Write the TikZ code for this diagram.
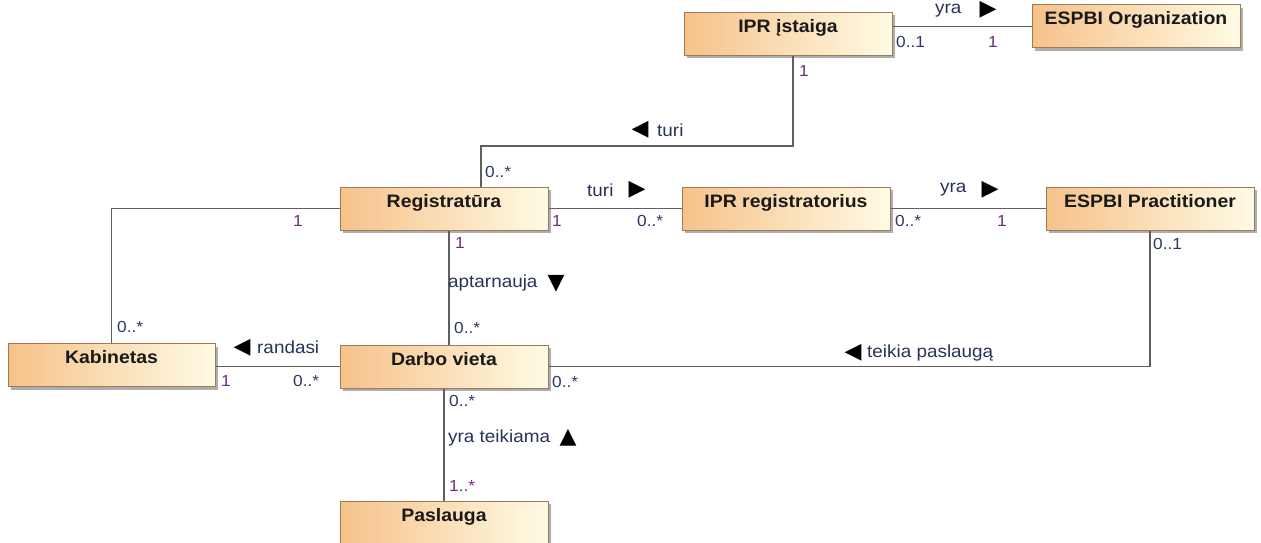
\documentclass[tikz,border=0pt]{standalone}
\usepackage{fontspec}
\setmainfont{Liberation Sans}[FakeStretch=1.08]
\newfontfamily\symfont{DejaVu Sans}
\usetikzlibrary{shadows}
\definecolor{boxL}{RGB}{246,194,138}
\definecolor{boxR}{RGB}{255,251,228}
\definecolor{boxborder}{RGB}{160,120,90}
\definecolor{linec}{RGB}{95,95,95}
\definecolor{multA}{RGB}{110,45,125}
\definecolor{multB}{RGB}{45,55,100}
\definecolor{txt}{RGB}{25,25,25}
\definecolor{reltxt}{RGB}{40,50,90}
\tikzset{
 cls/.style={draw=boxborder, line width=1pt, shading=axis, left color=boxL, right color=boxR,
   minimum width=208pt, minimum height=43pt, inner sep=0pt, text height=20pt, text depth=23pt,
   font=\fontsize{18}{18}\selectfont\bfseries, text=txt,
   drop shadow={shadow xshift=3pt, shadow yshift=-3pt, fill=black!45, opacity=0.7}},
 assoc/.style={draw=linec, line width=1.6pt},
 mone/.style={font=\fontsize{16}{16}\selectfont, text=multA, inner sep=0pt, anchor=west},
 mmany/.style={font=\fontsize{16}{16}\selectfont, text=multB, inner sep=0pt, anchor=west},
 rel/.style={font=\fontsize{17.5}{17.5}\selectfont, text=reltxt, inner sep=0pt, anchor=west},
 tri/.style={font=\symfont\fontsize{22}{22}\selectfont, text=black, inner sep=0pt},
}
\begin{document}
\begin{tikzpicture}[x=1pt,y=-1pt]
\useasboundingbox (0,0) rectangle (1261,543);
% classes
\node[cls] (ipr)   at (788,34)    {IPR įstaiga};
\node[cls] (org)   at (1136,26.5) {ESPBI Organization};
\node[cls] (reg)   at (444,208.5) {Registratūra};
\node[cls] (regr)  at (786,208.5) {IPR registratorius};
\node[cls] (prac)  at (1150,208.5){ESPBI Practitioner};
\node[cls, minimum width=207pt] (kab) at (111.5,365) {Kabinetas};
\node[cls] (darbo) at (444,366.5) {Darbo vieta};
\node[cls, minimum height=42pt, text depth=22pt] (pasl) at (444,522) {Paslauga};
% connectors
\draw[assoc] (ipr.east |- org.west) -- (org.west);
\coordinate (bend) at (481,146);
\draw[assoc] ([xshift=5pt]ipr.south) |- (bend) -- (bend |- reg.north);
\draw[assoc] (reg.east) -- (regr.west);
\draw[assoc] (regr.east) -- (prac.west);
\draw[assoc] (reg.west) -| (kab.north);
\draw[assoc] ([xshift=5pt]reg.south) -- ([xshift=5pt]darbo.north);
\draw[assoc] (kab.east |- darbo.west) -- (darbo.west);
\draw[assoc] (prac.south) |- (darbo.east);
\draw[assoc] (darbo.south) -- (pasl.north);
% labels: IPR istaiga - ESPBI Organization
\node[rel] (l1) at (935,11) {yra};
\node[tri] (t1) at (988,10) {▶};
\node[mmany] (m1) at (896,42) {0..1};
\node[mone] (m2) at (988,42) {1};
% IPR istaiga - Registratura
\node[mone] (m3) at (799,71) {1};
\node[tri] (t2) at (640,130) {◀};
\node[rel] (l2) at (657,130) {turi};
\node[mmany] (m4) at (485,172) {0..*};
% Registratura - IPR registratorius
\node[rel] (l3) at (587,190) {turi};
\node[tri] (t3) at (637,190) {▶};
\node[mone] (m5) at (552,221) {1};
\node[mmany] (m6) at (637,221) {0..*};
% IPR registratorius - ESPBI Practitioner
\node[rel] (l4) at (940,190) {yra};
\node[tri] (t4) at (990,190) {▶};
\node[mmany] (m7) at (895,221) {0..*};
\node[mone] (m8) at (997,221) {1};
% ESPBI Practitioner - Darbo vieta
\node[mmany] (m9) at (1153,244) {0..1};
\node[tri] (t5) at (853,353) {◀};
\node[rel] (l5) at (867,353) {teikia paslaugą};
\node[mmany] (m10) at (552,382) {0..*};
% Registratura - Kabinetas
\node[mone] (m11) at (293,221) {1};
\node[mmany] (m12) at (117,327) {0..*};
% Registratura - Darbo vieta
\node[mone] (m13) at (455,243) {1};
\node[rel] (l6) at (448,283) {aptarnauja};
\node[tri] (t6) at (556,284) {▼};
\node[mmany] (m14) at (454,328) {0..*};
% Kabinetas - Darbo vieta
\node[tri] (t7) at (242,348) {◀};
\node[rel] (l7) at (257,347) {randasi};
\node[mone] (m15) at (221,381) {1};
\node[mmany] (m16) at (293,381) {0..*};
% Darbo vieta - Paslauga
\node[mmany] (m17) at (449,401) {0..*};
\node[rel] (l8) at (448,438) {yra teikiama};
\node[tri] (t8) at (568,438) {▲};
\node[mone] (m18) at (449,486) {1..*};
\end{tikzpicture}
\end{document}
